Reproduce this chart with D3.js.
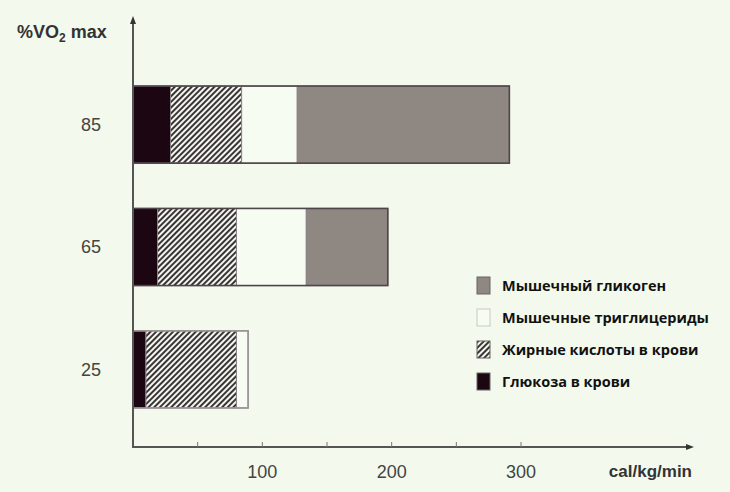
<!DOCTYPE html>
<html>
<head>
<meta charset="utf-8">
<script src="https://cdn.jsdelivr.net/npm/d3@7"></script>
<style>
  body { margin: 0; background: #f3faed; }
  svg { display: block; }
</style>
</head>
<body>
<div id="chart"></div>
<script>
// intensity levels (% VO2 max), top to bottom
var levels = ["85", "65", "25"];
// energy sources, stacked left to right
var sources = ["glucose", "fattyAcids", "triglycerides", "glycogen"];
var sourceLabels = {
  glycogen: "Мышечный гликоген",
  triglycerides: "Мышечные триглицериды",
  fattyAcids: "Жирные кислоты в крови",
  glucose: "Глюкоза в крови"
};
// cal/kg/min per source, same order as levels
var glucose = [29, 19, 10];
var fattyAcids = [55, 61, 70];
var triglycerides = [43, 54, 9];
var glycogen = [164, 63, 0];
var xTicks = [50, 100, 150, 200, 250, 300];
var xTickLabels = [100, 200, 300];

var width = 730, height = 492;

var svg = d3.select("#chart")
  .append("svg")
  .attr("width", width)
  .attr("height", height);

var defs = svg.append("defs");
var hatch = defs.append("pattern")
  .attr("id", "hatch")
  .attr("patternUnits", "userSpaceOnUse")
  .attr("width", 4)
  .attr("height", 4)
  .attr("patternTransform", "rotate(45)");
hatch.append("rect")
  .attr("width", 4).attr("height", 4)
  .attr("fill", "#f3f6ee");
hatch.append("rect")
  .attr("width", 2).attr("height", 4)
  .attr("fill", "#3a3436");

var fills = {
  glucose: "#1c0612",
  fattyAcids: "url(#hatch)",
  triglycerides: "#f7fcf3",
  glycogen: "#8f8782"
};

var x = d3.scaleLinear().domain([0, 300]).range([133, 521]);
var y = d3.scaleBand().domain(levels).range([64, 430])
  .paddingInner(0.37).paddingOuter(0.18);

// build rows for the stack
var rows = levels.map(function(l, i) {
  return {
    level: l,
    glucose: glucose[i],
    fattyAcids: fattyAcids[i],
    triglycerides: triglycerides[i],
    glycogen: glycogen[i]
  };
});
var stacked = d3.stack().keys(sources)(rows);

var layer = svg.selectAll(".layer")
  .data(stacked)
  .enter()
  .append("g")
  .attr("class", "layer")
  .attr("fill", function(d) { return fills[d.key]; });

layer.selectAll("rect")
  .data(function(d) { return d.filter(function(s) { return s[1] > s[0]; }); })
  .enter()
  .append("rect")
  .attr("x", function(d) { return x(d[0]); })
  .attr("y", function(d) { return y(d.data.level); })
  .attr("width", function(d) { return x(d[1]) - x(d[0]); })
  .attr("height", y.bandwidth())
  .attr("stroke", "#8a8285")
  .attr("stroke-width", 1);

// outline around each whole bar
svg.selectAll(".outline")
  .data(rows)
  .enter()
  .append("rect")
  .attr("class", "outline")
  .attr("x", x(0))
  .attr("y", function(d) { return y(d.level); })
  .attr("width", function(d) {
    return x(d.glucose + d.fattyAcids + d.triglycerides + d.glycogen) - x(0);
  })
  .attr("height", y.bandwidth())
  .attr("fill", "none")
  .attr("stroke", function(d) { return d.glycogen > 0 ? "#4e4549" : "#9a9496"; })
  .attr("stroke-width", 1.6);

// axes
var axisColor = "#555";
var axisY = 447;
svg.append("line")
  .attr("x1", x(0)).attr("x2", x(0))
  .attr("y1", 22).attr("y2", axisY)
  .attr("stroke", axisColor).attr("stroke-width", 2);
svg.append("path")
  .attr("d", "M" + (x(0) - 3) + ",24 L" + x(0) + ",16 L" + (x(0) + 3) + ",24 Z")
  .attr("fill", "#333");
svg.append("line")
  .attr("x1", x(0) - 1).attr("x2", 688)
  .attr("y1", axisY).attr("y2", axisY)
  .attr("stroke", axisColor).attr("stroke-width", 2);
svg.append("path")
  .attr("d", "M686," + (axisY - 3) + " L694," + axisY + " L686," + (axisY + 3) + " Z")
  .attr("fill", "#333");

svg.selectAll(".tick")
  .data(xTicks)
  .enter()
  .append("line")
  .attr("class", "tick")
  .attr("x1", function(d) { return x(d); })
  .attr("x2", function(d) { return x(d); })
  .attr("y1", axisY - 5).attr("y2", axisY)
  .attr("stroke", "#777").attr("stroke-width", 1);

svg.selectAll(".tickLabel")
  .data(xTickLabels)
  .enter()
  .append("text")
  .attr("class", "tickLabel")
  .attr("x", function(d) { return x(d); })
  .attr("y", 478)
  .attr("text-anchor", "middle")
  .style("font-family", "Liberation Sans, Arial, sans-serif")
  .style("font-size", "18px")
  .style("fill", "#444")
  .text(function(d) { return d; });

svg.append("text")
  .attr("x", 692).attr("y", 477)
  .attr("text-anchor", "end")
  .style("font-family", "Liberation Sans, Arial, sans-serif")
  .style("font-size", "17px")
  .style("font-weight", "bold")
  .style("fill", "#333")
  .text("cal/kg/min");

svg.selectAll(".levelLabel")
  .data(levels)
  .enter()
  .append("text")
  .attr("class", "levelLabel")
  .attr("x", 101)
  .attr("y", function(d) { return y(d) + y.bandwidth() / 2; })
  .attr("dy", "0.35em")
  .attr("text-anchor", "end")
  .style("font-family", "Liberation Sans, Arial, sans-serif")
  .style("font-size", "18px")
  .style("fill", "#444")
  .text(function(d) { return d; });

var title = svg.append("text")
  .attr("x", 17).attr("y", 38)
  .style("font-family", "Liberation Sans, Arial, sans-serif")
  .style("font-size", "18px")
  .style("font-weight", "bold")
  .style("fill", "#333");
title.append("tspan").text("%VO");
title.append("tspan").attr("dy", 4).style("font-size", "12px").text("2");
title.append("tspan").attr("dy", -4).text(" max");

// legend
var legendKeys = sources.slice().reverse();
var legend = svg.selectAll(".legend")
  .data(legendKeys)
  .enter()
  .append("g")
  .attr("class", "legend")
  .attr("transform", function(d, i) { return "translate(477," + (277 + i * 32) + ")"; });

legend.append("rect")
  .attr("width", 13).attr("height", 17)
  .attr("fill", function(d) { return fills[d]; })
  .attr("stroke", function(d) { return d === "triglycerides" ? "#c8c8c4" : "#6a6266"; })
  .attr("stroke-width", 1);

legend.append("text")
  .attr("x", 25)
  .attr("y", 9)
  .attr("dy", "0.35em")
  .style("font-family", "Open Sans, sans-serif")
  .style("font-size", "14.5px")
  .style("font-weight", "bold")
  .style("fill", "#111")
  .text(function(d) { return sourceLabels[d]; });
</script>
</body>
</html>
